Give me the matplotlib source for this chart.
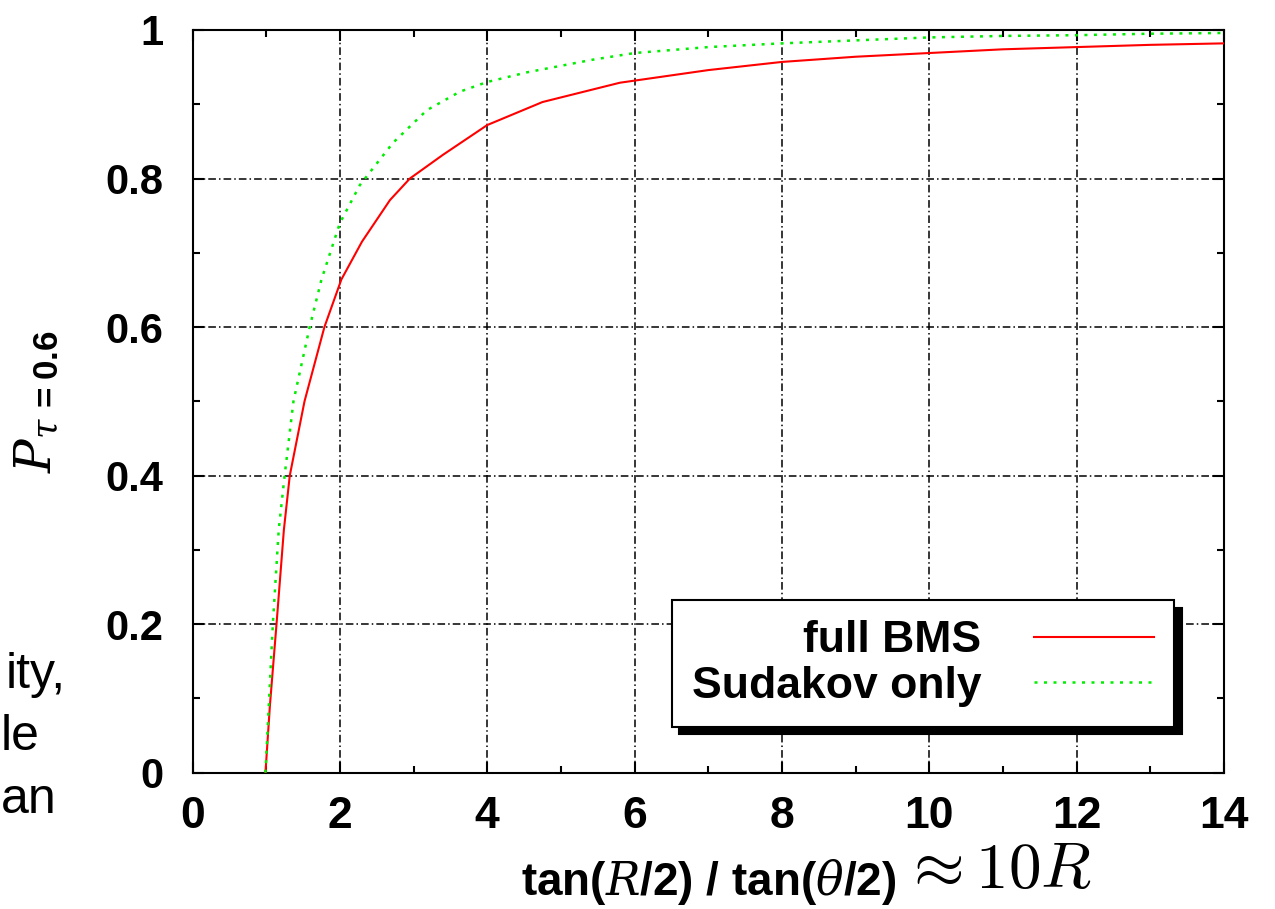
import numpy as np
from matplotlib import pyplot as plt
from matplotlib.patches import Shadow

# values
red_x = [0.99, 1.05, 1.14, 1.24, 1.32, 1.52, 1.79, 2.02, 2.3, 2.68, 2.95,
         3.4, 4.0, 4.75, 5.8, 7.0, 8.0, 9.0, 10.0, 11.0, 12.0, 13.0, 14.0]
red_y = [0.0, 0.09, 0.20, 0.327, 0.40, 0.50, 0.60, 0.664, 0.715, 0.771, 0.80,
         0.832, 0.872, 0.903, 0.929, 0.946, 0.957, 0.964, 0.969, 0.974, 0.977, 0.980, 0.982]

green_x = [0.99, 1.04, 1.09, 1.17, 1.25, 1.37, 1.59, 1.75, 2.0, 2.27, 2.72, 3.18,
           3.63, 4.0, 4.54, 5.43, 6.0, 7.0, 8.0, 9.0, 10.0, 11.0, 12.0, 13.0, 14.0]
green_y = [0.0, 0.10, 0.20, 0.327, 0.40, 0.50, 0.60, 0.664, 0.74, 0.791, 0.848, 0.892,
           0.917, 0.930, 0.943, 0.960, 0.969, 0.977, 0.982, 0.986, 0.990, 0.992, 0.993, 0.995, 0.996]

x_ticks = [0, 2, 4, 6, 8, 10, 12, 14]
x_labels = ['0', '2', '4', '6', '8', '10', '12', '14']
y_ticks = [0, 0.2, 0.4, 0.6, 0.8, 1.0]
y_labels = ['0', '0.2', '0.4', '0.6', '0.8', '1']
series_names = ['full BMS', 'Sudakov only']
side_words = ['ity,', 'le', 'an']

plt.rcParams['font.family'] = 'Liberation Sans'
plt.rcParams['mathtext.fontset'] = 'custom'
plt.rcParams['mathtext.rm'] = 'Liberation Sans:bold'
plt.rcParams['mathtext.bf'] = 'Liberation Sans:bold'
plt.rcParams['mathtext.it'] = 'DejaVu Serif:italic'

fig = plt.figure(figsize=(12.75, 9.09), dpi=100)
ax = fig.add_axes([0.151, 0.150, 0.809, 0.817])

ax.plot(red_x, red_y, color='#ff0000', lw=1.5, label=series_names[0], zorder=3)
ax.plot(green_x, green_y, color='#00ee00', lw=1.8, dashes=(1.2, 2.6),
        dash_capstyle='butt', label=series_names[1], zorder=3)

ax.set_xlim(0, 14)
ax.set_ylim(0, 1)
ax.set_xticks(x_ticks)
ax.set_xticklabels(x_labels)
ax.set_yticks(y_ticks)
ax.set_yticklabels(y_labels)
ax.set_xticks(np.arange(1, 14, 2), minor=True)
ax.set_yticks(np.arange(0.1, 1.0, 0.2), minor=True)

ax.tick_params(which='both', direction='in', top=True, right=True, width=1.5)
ax.tick_params(which='major', length=8)
ax.tick_params(which='minor', length=5)
ax.tick_params(axis='x', pad=17, labelsize=32)
ax.tick_params(axis='y', pad=21, labelsize=30)
for lab in ax.get_xticklabels() + ax.get_yticklabels():
    lab.set_fontweight('bold')
for sp in ax.spines.values():
    sp.set_linewidth(1.5)

ax.grid(True, which='major', color='black', lw=1.1, dashes=(5, 2, 1, 2))

ax.set_xlabel('tan($R$/2) / tan($\\theta$/2)', fontsize=33, fontweight='bold', labelpad=14)
ax.annotate(r'$\approx 10R$', xy=(1, 0), xycoords=ax.xaxis.label, xytext=(4, 4),
            textcoords='offset points', ha='left', va='bottom', fontsize=47,
            math_fontfamily='cm')

ax.set_ylabel(r'$P_{\tau\,\mathbf{=0.6}}$', fontsize=36)
ax.yaxis.set_label_coords(-0.127, 0.5)

leg = ax.legend(loc='lower right', bbox_to_anchor=(0.952, 0.062), borderaxespad=0,
                markerfirst=False, prop={'weight': 'bold', 'size': 32},
                fancybox=False, edgecolor='black', framealpha=1,
                handlelength=2.7, handletextpad=1.2, borderpad=0.45, labelspacing=0.1)
leg.get_frame().set_linewidth(1.5)

for word, xr, yb in zip(side_words, [66, 40, 57], [688, 750, 813]):
    fig.text(xr / 1275, 1 - yb / 909, word, ha='right', va='baseline', fontsize=36)

fig.canvas.draw()
sh = Shadow(leg.get_frame(), 5.5, -5.5, shade=1.0, alpha=1)
sh.set_zorder(4.99)
ax.add_artist(sh)

fig.savefig('out.png', dpi=100)
